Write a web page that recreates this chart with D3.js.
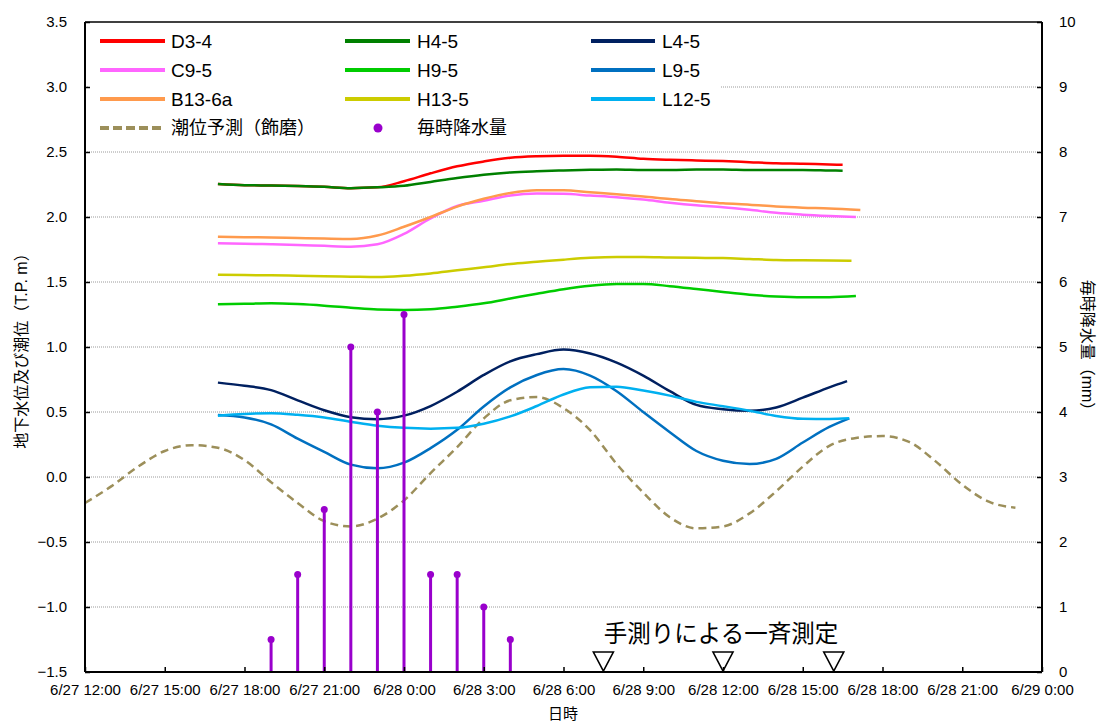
<!DOCTYPE html>
<html>
<head>
<meta charset="utf-8">
<script src="https://cdn.jsdelivr.net/npm/d3@7"></script>
<style>
  body { margin: 0; background: #fff; }
  svg { display: block; }
  text { font-family: "Liberation Sans", Arial, "Noto Sans CJK JP", sans-serif; fill: #000; }
</style>
</head>
<body>
<svg id="chart" width="1105" height="722"></svg>
<script>
// ---- observation wells (T.P. m), hourly from 6/27 17:00 ----
const gwTimes = [
  "6/27 17:00","6/27 18:00","6/27 19:00","6/27 20:00","6/27 21:00","6/27 22:00",
  "6/27 23:00","6/28 0:00","6/28 1:00","6/28 2:00","6/28 3:00","6/28 4:00",
  "6/28 5:00","6/28 6:00","6/28 7:00","6/28 8:00","6/28 9:00","6/28 10:00",
  "6/28 11:00","6/28 12:00","6/28 13:00","6/28 14:00","6/28 15:00","6/28 16:00"
];
const seriesNames = ["D3-4","C9-5","B13-6a","H4-5","H9-5","H13-5","L4-5","L9-5","L12-5"];
const seriesColors = ["#FF0000","#FF66FF","#FF9A4D","#008000","#00CC00","#CCCC00","#002060","#0070C0","#00B0F0"];

const levelD3_4   = [2.254,2.245,2.242,2.238,2.232,2.222,2.228,2.275,2.336,2.390,2.427,2.456,2.468,2.472,2.472,2.464,2.448,2.440,2.435,2.430,2.422,2.414,2.410,2.404];
const levelC9_5   = [1.798,1.795,1.790,1.785,1.778,1.772,1.790,1.870,1.990,2.085,2.125,2.166,2.180,2.178,2.165,2.152,2.134,2.110,2.090,2.075,2.055,2.032,2.018,2.008];
const levelB13_6a = [1.849,1.845,1.842,1.838,1.834,1.831,1.857,1.925,2.000,2.080,2.140,2.185,2.205,2.205,2.190,2.175,2.158,2.138,2.122,2.105,2.095,2.081,2.072,2.066];
const levelH4_5   = [2.254,2.245,2.242,2.238,2.232,2.222,2.228,2.240,2.270,2.300,2.325,2.343,2.352,2.358,2.363,2.366,2.362,2.362,2.365,2.366,2.362,2.362,2.362,2.358];
const levelH9_5   = [1.328,1.332,1.336,1.330,1.318,1.302,1.288,1.285,1.290,1.310,1.336,1.373,1.410,1.445,1.472,1.485,1.485,1.468,1.446,1.423,1.402,1.388,1.382,1.383];
const levelH13_5  = [1.556,1.553,1.551,1.548,1.544,1.541,1.538,1.548,1.566,1.590,1.613,1.638,1.655,1.672,1.686,1.692,1.692,1.688,1.686,1.684,1.677,1.670,1.667,1.665];
const levelL4_5   = [0.726,0.702,0.668,0.590,0.513,0.460,0.445,0.472,0.546,0.656,0.785,0.890,0.945,0.980,0.950,0.880,0.780,0.660,0.555,0.522,0.510,0.535,0.610,0.690];
const levelL9_5   = [0.477,0.458,0.405,0.295,0.193,0.095,0.067,0.110,0.222,0.363,0.543,0.690,0.785,0.830,0.780,0.660,0.500,0.345,0.200,0.125,0.100,0.140,0.265,0.385];
const levelL12_5  = [0.472,0.485,0.490,0.478,0.458,0.425,0.395,0.378,0.372,0.378,0.410,0.466,0.546,0.635,0.690,0.695,0.665,0.626,0.578,0.545,0.510,0.470,0.448,0.446];
const seriesLevels = [levelD3_4, levelC9_5, levelB13_6a, levelH4_5, levelH9_5, levelH13_5, levelL4_5, levelL9_5, levelL12_5];

// last reading of each well (time, level)
const seriesEndTimes  = ["6/28 16:30","6/28 17:00","6/28 17:10","6/28 16:30","6/28 17:00","6/28 16:50","6/28 16:40","6/28 16:45","6/28 16:45"];
const seriesEndLevels = [2.402, 2.000, 2.054, 2.356, 1.392, 1.664, 0.738, 0.451, 0.451];

// ---- predicted tide at Shikama (T.P. m), hourly ----
const tideTimes = [
  "6/27 12:00","6/27 13:00","6/27 14:00","6/27 15:00","6/27 16:00","6/27 17:00",
  "6/27 18:00","6/27 19:00","6/27 20:00","6/27 21:00","6/27 22:00","6/27 23:00",
  "6/28 0:00","6/28 1:00","6/28 2:00","6/28 3:00","6/28 4:00","6/28 5:00",
  "6/28 6:00","6/28 7:00","6/28 8:00","6/28 9:00","6/28 10:00","6/28 11:00",
  "6/28 12:00","6/28 13:00","6/28 14:00","6/28 15:00","6/28 16:00","6/28 17:00",
  "6/28 18:00","6/28 19:00","6/28 20:00","6/28 21:00","6/28 22:00","6/28 23:00"
];
const tideLevels = [
  -0.20,-0.07,0.08,0.20,0.245,0.225,0.13,-0.04,-0.20,-0.34,-0.38,-0.32,
  -0.18,0.03,0.23,0.45,0.59,0.615,0.53,0.36,0.10,-0.12,-0.31,-0.395,
  -0.38,-0.28,-0.11,0.08,0.24,0.30,0.315,0.27,0.12,-0.06,-0.19,-0.236
];

// ---- hourly rainfall (mm) ----
const rainTimes = ["6/27 19:00","6/27 20:00","6/27 21:00","6/27 22:00","6/27 23:00","6/28 0:00","6/28 1:00","6/28 2:00","6/28 3:00","6/28 4:00"];
const rainAmounts = [0.5, 1.5, 2.5, 5.0, 4.0, 5.5, 1.5, 1.5, 1.0, 0.5];

// ---- simultaneous manual measurements ----
const surveyTimes = ["6/28 7:30","6/28 12:00","6/28 16:10"];
const surveyLabel = "手測りによる一斉測定";

// ---- axes ----
const xTickTimes = ["6/27 12:00","6/27 15:00","6/27 18:00","6/27 21:00","6/28 0:00","6/28 3:00","6/28 6:00","6/28 9:00","6/28 12:00","6/28 15:00","6/28 18:00","6/28 21:00","6/29 0:00"];
const leftTicks = [-1.5,-1.0,-0.5,0.0,0.5,1.0,1.5,2.0,2.5,3.0,3.5];
const rightTicks = [0,1,2,3,4,5,6,7,8,9,10];
const leftTitle = "地下水位及び潮位（T.P. m）";
const rightTitle = "毎時降水量（mm）";
const xTitle = "日時";
const tideName = "潮位予測（飾磨）";
const rainName = "毎時降水量";

// ------------------------------------------------------------
const parse = d3.timeParse("%m/%d %H:%M");
const fmt = d3.timeFormat("%-m/%-d %-H:%M");
const svg = d3.select("#chart");

const L = 85, R = 1042, T = 22, B = 672;
const x = d3.scaleTime().domain([parse(xTickTimes[0]), parse(xTickTimes[xTickTimes.length - 1])]).range([L, R]);
const y = d3.scaleLinear().domain([-1.5, 3.5]).range([B, T]);
const y2 = d3.scaleLinear().domain([0, 10]).range([B, T]);

// grid
svg.append("g").selectAll("line")
  .data(leftTicks.filter(v => v > -1.5 && v < 3.5))
  .join("line")
  .attr("x1", L).attr("x2", R)
  .attr("y1", d => y(d)).attr("y2", d => y(d))
  .attr("stroke", "#9a9a9a").attr("stroke-width", 1).attr("stroke-dasharray", "1,1");

// legend backdrop (hides grid behind the legend)
svg.append("rect").attr("x", 88).attr("y", 26).attr("width", 632).attr("height", 118).attr("fill", "#fff");

// tide curve
const tideData = tideTimes.map((t, i) => [parse(t), tideLevels[i]]);
const lineGen = d3.line().x(d => x(d[0])).y(d => y(d[1])).curve(d3.curveMonotoneX);
svg.append("path").datum(tideData).attr("d", lineGen)
  .attr("fill", "none").attr("stroke", "#9C8F5A").attr("stroke-width", 2.5).attr("stroke-dasharray", "8,5");

// groundwater curves
seriesNames.forEach((name, i) => {
  const pts = gwTimes.map((t, j) => [parse(t), seriesLevels[i][j]]);
  pts.push([parse(seriesEndTimes[i]), seriesEndLevels[i]]);
  svg.append("path").datum(pts).attr("d", lineGen)
    .attr("fill", "none").attr("stroke", seriesColors[i]).attr("stroke-width", 2.5)
    .attr("stroke-linejoin", "round");
});

// rainfall stems
const rain = rainTimes.map((t, i) => [parse(t), rainAmounts[i]]);
const rg = svg.append("g");
rg.selectAll("line").data(rain).join("line")
  .attr("x1", d => x(d[0])).attr("x2", d => x(d[0]))
  .attr("y1", y2(0)).attr("y2", d => y2(d[1]))
  .attr("stroke", "#9900CC").attr("stroke-width", 3);
rg.selectAll("circle").data(rain).join("circle")
  .attr("cx", d => x(d[0])).attr("cy", d => y2(d[1])).attr("r", 3.5)
  .attr("fill", "#9900CC");

// survey markers
svg.append("g").selectAll("path").data(surveyTimes).join("path")
  .attr("d", t => { const cx = x(parse(t)); return `M${cx - 10},${B - 20}L${cx + 10},${B - 20}L${cx},${B - 1}Z`; })
  .attr("fill", "#fff").attr("stroke", "#000").attr("stroke-width", 1.6).attr("stroke-linejoin", "miter");
svg.append("text").attr("x", 721).attr("y", 632).attr("text-anchor", "middle").attr("dominant-baseline", "central")
  .style("font-family", "'Noto Sans CJK JP', sans-serif").style("font-size", "23.5px").text(surveyLabel);

// frame
svg.append("line").attr("x1", L).attr("x2", R).attr("y1", T).attr("y2", T).attr("stroke", "#000").attr("stroke-width", 1.5);

// axes
const xAxis = d3.axisBottom(x).tickValues(xTickTimes.map(parse)).tickFormat(fmt).tickSize(-5).tickPadding(12);
const gx = svg.append("g").attr("transform", `translate(0,${B})`).call(xAxis);
const yAxis = d3.axisLeft(y).tickValues(leftTicks).tickFormat(d3.format(".1f")).tickSize(-5).tickPadding(18);
const gy = svg.append("g").attr("transform", `translate(${L},0)`).call(yAxis);
const y2Axis = d3.axisRight(y2).tickValues(rightTicks).tickFormat(d3.format("d")).tickSize(-5).tickPadding(17);
const gy2 = svg.append("g").attr("transform", `translate(${R},0)`).call(y2Axis);
[gx, gy, gy2].forEach(g => {
  g.select(".domain").attr("stroke", "#000").attr("stroke-width", 2);
  g.selectAll(".tick line").attr("stroke", "#000").attr("stroke-width", 1.5);
  g.selectAll(".tick text").style("font-size", "15px").style("font-family", "'Liberation Sans', Arial, sans-serif").attr("fill", "#000");
});
gy.select(".domain").attr("d", `M0,${T}V${B}`);
gy2.select(".domain").attr("d", `M0,${T}V${B}`);
gx.select(".domain").attr("d", `M${L},0H${R}`);

// axis titles
svg.append("text").attr("transform", `translate(21,347) rotate(-90)`).attr("text-anchor", "middle")
  .attr("dominant-baseline", "central").style("font-size", "16px").text(leftTitle);
svg.append("text").attr("transform", `translate(1087,349) rotate(90)`).attr("text-anchor", "middle")
  .attr("dominant-baseline", "central").style("font-size", "16px").text(rightTitle);
svg.append("text").attr("x", 563).attr("y", 713).attr("text-anchor", "middle")
  .attr("dominant-baseline", "central").style("font-size", "15px").text(xTitle);

// legend
const legCols = [[100, 165, 171], [345, 410, 417], [591, 655, 662]];
const legRows = [41, 70, 99, 128];
const legend = svg.append("g");
seriesNames.forEach((name, i) => {
  const c = legCols[Math.floor(i / 3)], ry = legRows[i % 3];
  legend.append("line").attr("x1", c[0]).attr("x2", c[1]).attr("y1", ry).attr("y2", ry)
    .attr("stroke", seriesColors[i]).attr("stroke-width", 4);
  legend.append("text").attr("x", c[2]).attr("y", ry).attr("dominant-baseline", "central")
    .style("font-size", "19px").text(name);
});
legend.append("line").attr("x1", legCols[0][0]).attr("x2", legCols[0][1]).attr("y1", legRows[3]).attr("y2", legRows[3])
  .attr("stroke", "#9C8F5A").attr("stroke-width", 4).attr("stroke-dasharray", "9,4");
legend.append("text").attr("x", legCols[0][2]).attr("y", legRows[3]).attr("dominant-baseline", "central")
  .style("font-size", "18px").text(tideName);
legend.append("circle").attr("cx", 378).attr("cy", legRows[3]).attr("r", 4.5).attr("fill", "#9900CC");
legend.append("text").attr("x", legCols[1][2]).attr("y", legRows[3]).attr("dominant-baseline", "central")
  .style("font-size", "18px").text(rainName);
</script>
</body>
</html>
